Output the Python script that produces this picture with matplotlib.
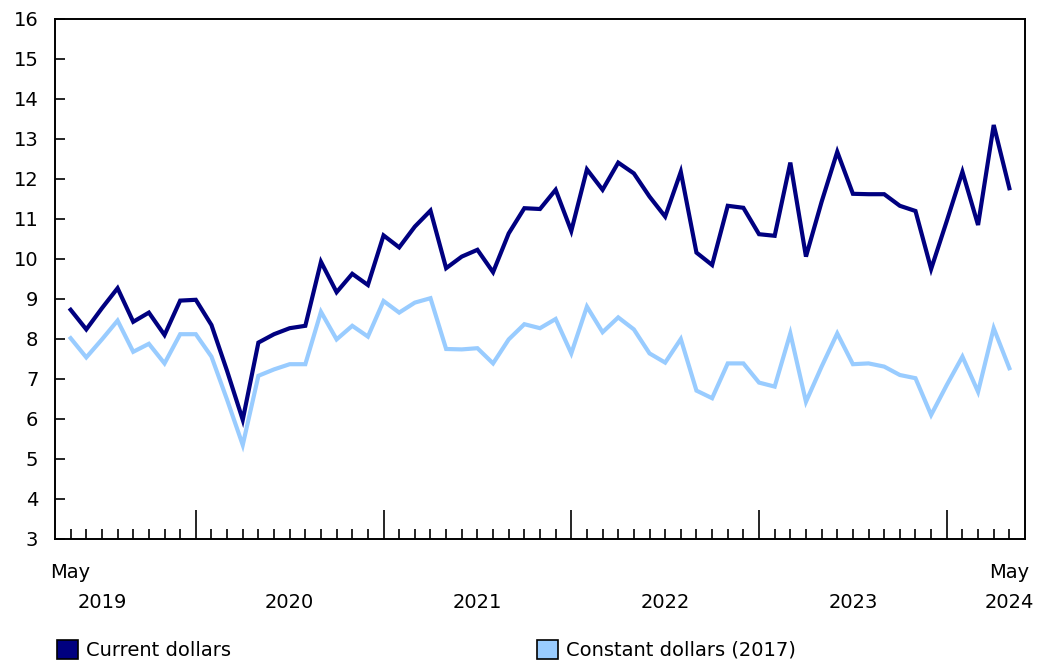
import matplotlib
matplotlib.use("Agg")
import matplotlib.pyplot as plt
import matplotlib.transforms as mtransforms
from matplotlib.patches import Patch

months = list(range(61))  # May 2019 .. May 2024

current = [8.73, 8.24, 8.77, 9.27, 8.43, 8.66, 8.10, 8.96, 8.98, 8.35,
           7.20, 5.98, 7.91, 8.12, 8.27, 8.33, 9.93, 9.17, 9.63, 9.35,
           10.59, 10.29, 10.81, 11.21, 9.77, 10.06, 10.23, 9.67, 10.64, 11.27,
           11.25, 11.73, 10.70, 12.24, 11.73, 12.41, 12.14, 11.56, 11.06, 12.18,
           10.16, 9.85, 11.33, 11.28, 10.62, 10.58, 12.41, 10.06, 11.43, 12.68,
           11.63, 11.62, 11.62, 11.33, 11.20, 9.75, 10.95, 12.18, 10.85, 13.35,
           11.77]

constant = [8.02, 7.54, 7.99, 8.46, 7.68, 7.88, 7.39, 8.12, 8.12, 7.56,
            6.48, 5.35, 7.08, 7.24, 7.37, 7.37, 8.68, 7.99, 8.33, 8.06,
            8.95, 8.66, 8.91, 9.02, 7.75, 7.74, 7.77, 7.39, 7.99, 8.37,
            8.27, 8.50, 7.64, 8.81, 8.17, 8.54, 8.24, 7.64, 7.41, 8.00,
            6.71, 6.52, 7.39, 7.39, 6.91, 6.81, 8.14, 6.43, 7.31, 8.14,
            7.37, 7.39, 7.31, 7.10, 7.02, 6.10, 6.85, 7.56, 6.68, 8.27,
            7.27]

year_labels = ["2019", "2020", "2021", "2022", "2023", "2024"]
year_label_pos = [2, 14, 26, 38, 50, 60]
january_pos = [8, 20, 32, 44, 56]
y_ticks = list(range(3, 17))

c_current = "#000080"
c_constant = "#99ccff"
fs = 14

plt.rcParams['font.family'] = ['DejaVu Sans']
fig = plt.figure(figsize=(10.38, 6.6), dpi=100)
ax = fig.add_axes([55/1038, (660-539)/660, (1025-55)/1038, (539-19)/660])

ax.plot(months, current, color=c_current, lw=3.0, solid_joinstyle='miter')
ax.plot(months, constant, color=c_constant, lw=3.0, solid_joinstyle='miter')

ax.set_xlim(-1, 61)
ax.set_ylim(3, 16)
ax.set_yticks(y_ticks)
ax.tick_params(axis='y', direction='in', length=7.2, width=1.2, labelsize=fs, pad=12)

minor = [m for m in months if m not in january_pos]
ax.set_xticks(january_pos)
ax.set_xticks(minor, minor=True)
ax.set_xticklabels([])
ax.tick_params(axis='x', which='major', direction='in', length=21, width=1.2)
ax.tick_params(axis='x', which='minor', direction='in', length=7, width=1.2)

for s in ax.spines.values():
    s.set_linewidth(1.4)

trans = mtransforms.blended_transform_factory(ax.transData, fig.transFigure)
ax.text(months[0], 1 - 572/660, "May", transform=trans, ha='center', va='center', fontsize=fs)
ax.text(months[-1], 1 - 572/660, "May", transform=trans, ha='center', va='center', fontsize=fs)
for lab, pos in zip(year_labels, year_label_pos):
    ax.text(pos, 1 - 603/660, lab, transform=trans, ha='center', va='center', fontsize=fs)

handles = [Patch(facecolor=c_current, edgecolor='black', lw=1.2),
           Patch(facecolor=c_constant, edgecolor='black', lw=1.2)]
fig.legend([handles[0]], ["Current dollars"], loc='center left',
           bbox_to_anchor=(39/1038, 1 - 650/660), frameon=False, fontsize=fs,
           handlelength=1.1, handleheight=1.1, handletextpad=0.4)
fig.legend([handles[1]], ["Constant dollars (2017)"], loc='center left',
           bbox_to_anchor=(519/1038, 1 - 650/660), frameon=False, fontsize=fs,
           handlelength=1.1, handleheight=1.1, handletextpad=0.4)

fig.savefig("out.png", dpi=100)
